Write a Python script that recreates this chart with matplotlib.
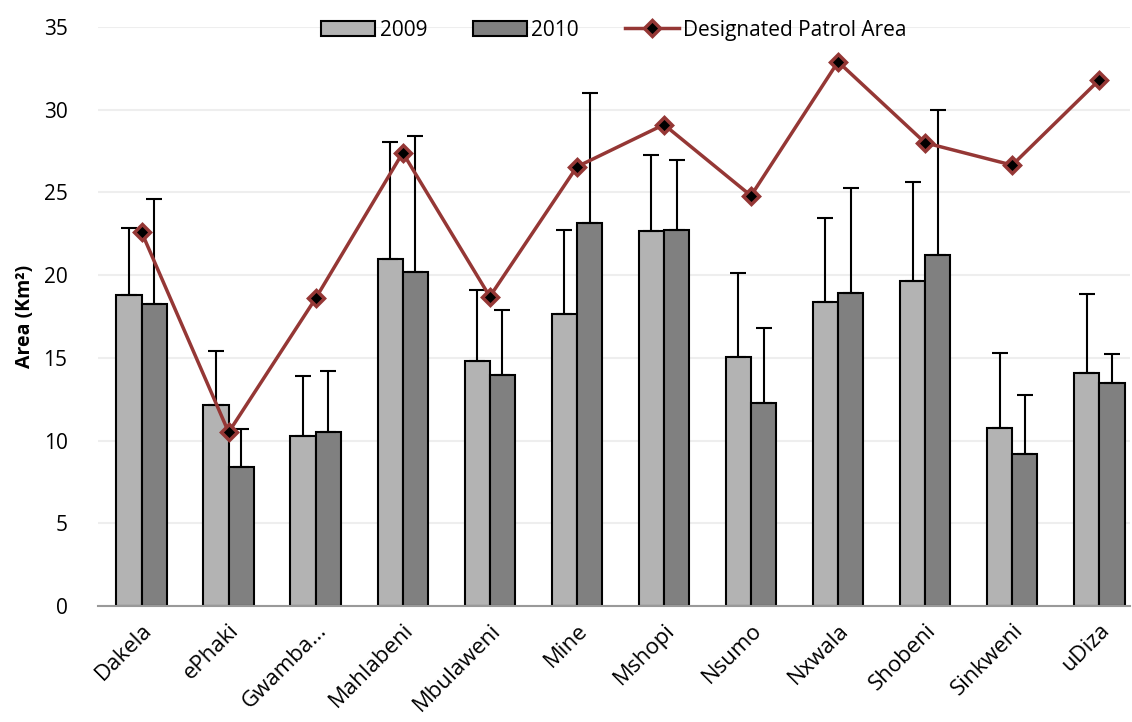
import numpy as np
import matplotlib
matplotlib.use("Agg")
import matplotlib.pyplot as plt

plt.rcParams['font.family'] = ['Open Sans', 'DejaVu Sans']

sites = ['Dakela', 'ePhaki', 'Gwamba...', 'Mahlabeni', 'Mbulaweni', 'Mine',
         'Mshopi', 'Nsumo', 'Nxwala', 'Shobeni', 'Sinkweni', 'uDiza']
area_2009 = [18.8, 12.15, 10.3, 20.95, 14.8, 17.65, 22.65, 15.05, 18.4, 19.65, 10.75, 14.1]
err_2009 = [4.05, 3.25, 3.6, 7.1, 4.3, 5.05, 4.6, 5.05, 5.05, 5.95, 4.55, 4.75]
area_2010 = [18.25, 8.4, 10.5, 20.2, 13.95, 23.15, 22.75, 12.3, 18.95, 21.2, 9.2, 13.5]
err_2010 = [6.35, 2.3, 3.7, 8.2, 3.95, 7.85, 4.2, 4.5, 6.3, 8.8, 3.55, 1.75]
patrol_area = [22.6, 10.5, 18.6, 27.4, 18.7, 26.55, 29.1, 24.8, 32.9, 28.0, 26.65, 31.8]

fig = plt.figure(figsize=(11.32, 7.22), dpi=100)
ax = fig.add_axes([0.0866, 0.1607, 0.9114, 0.8019])

x = np.arange(len(sites))
w = 0.29
red = '#953735'

b1 = ax.bar(x - w / 2, area_2009, w, color='#b3b3b3', edgecolor='black', linewidth=1.5,
            yerr=[np.zeros(len(sites)), err_2009], error_kw=dict(ecolor='black', elinewidth=1.5, capsize=6, capthick=1.5),
            label='2009', zorder=2)
b2 = ax.bar(x + w / 2, area_2010, w, color='#808080', edgecolor='black', linewidth=1.5,
            yerr=[np.zeros(len(sites)), err_2010], error_kw=dict(ecolor='black', elinewidth=1.5, capsize=6, capthick=1.5),
            label='2010', zorder=2)
ln, = ax.plot(x, patrol_area, color=red, linewidth=2.5, marker='D', markersize=8,
              markerfacecolor='black', markeredgecolor=red, markeredgewidth=2.5,
              label='Designated Patrol Area', zorder=3)

ax.set_ylim(0, 35)
ax.set_yticks(range(0, 36, 5))
ax.set_xlim(-0.5, 11.35)
ax.set_xticks(x)
ax.set_xticklabels(sites, rotation=45, ha='right', rotation_mode='anchor')
ax.tick_params(axis='both', labelsize=15, length=0)
ax.tick_params(axis='x', labelsize=16, pad=10)
ax.tick_params(axis='y', pad=22)
ax.set_ylabel('Area (Km²)', fontsize=14, fontweight='bold', labelpad=6)

ax.yaxis.grid(True, color='#eeeeee', linewidth=1.5, zorder=0)
ax.set_axisbelow(True)
for s in ['top', 'right', 'left']:
    ax.spines[s].set_visible(False)
ax.spines['bottom'].set_color('#999999')
ax.spines['bottom'].set_linewidth(1.5)

ax.legend([b1, b2, ln], ['2009', '2010', 'Designated Patrol Area'],
          loc='upper center', bbox_to_anchor=(0.5, 1.045), ncol=3, frameon=False,
          fontsize=15, handlelength=2.6, handletextpad=0.2, columnspacing=2.2)

fig.savefig('out.png', dpi=100)
